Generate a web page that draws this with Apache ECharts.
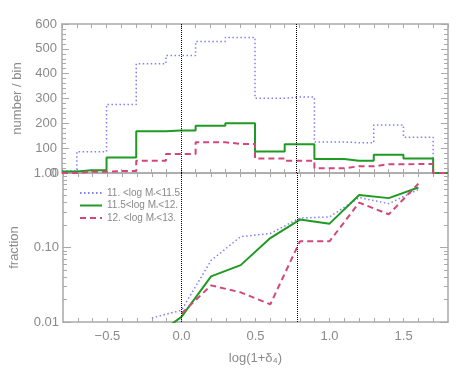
<!DOCTYPE html>
<html>
<head>
    <meta charset="UTF-8">
    <title>number / bin and fraction</title>
    <script src="https://cdn.jsdelivr.net/npm/echarts@6/dist/echarts.min.js"></script>
    <style>
        html, body { margin: 0; padding: 0; background: #fff; }
        #chart { width: 463px; height: 371px; }
    </style>
</head>
<body>
<div id="chart"></div>
<script type="text/javascript">
    // bin centres of the histogram (width 0.2)
    var binCenters = [-0.8, -0.6, -0.4, -0.2, 0.0, 0.2, 0.4, 0.6, 0.8, 1.0, 1.2, 1.4, 1.6, 1.8];
    var histLow  = [8, 86, 276, 440, 473, 530, 546, 301, 306, 125, 122, 193, 144, 0];
    var histMid  = [6, 11, 62, 168, 171, 190, 200, 87, 116, 56, 49, 73, 58, 0];
    var histHigh = [0, 5, 8, 49, 77, 124, 117, 58, 49, 19, 27, 35, 36, 0];

    // fraction curves (lower panel)
    var fracX    = [-0.2, 0.0, 0.2, 0.4, 0.6, 0.8, 1.0, 1.2, 1.4, 1.6];
    var fracLow  = [0.0113, 0.0144, 0.067, 0.14, 0.154, 0.249, 0.257, 0.468, 0.388, 0.60];
    var fracMid  = [0.006, 0.0117, 0.041, 0.058, 0.134, 0.237, 0.209, 0.507, 0.46, 0.64];
    var fracHigh = [null, 0.013, 0.031, 0.025, 0.0173, 0.121, 0.121, 0.40, 0.279, 0.72];

    // log axis ticks
    var logMajor = [0.01, 0.1, 1];
    var logMinor = [0.02, 0.03, 0.04, 0.05, 0.06, 0.07, 0.08, 0.09, 0.2, 0.3, 0.4, 0.5, 0.6, 0.7, 0.8, 0.9];

    var seriesNames = ['11. <log M{s|*}<11.5', '11.5<log M{s|*}<12.', '12. <log M{s|*}<13.'];
    var markX = [0.0, 0.78];

    var colLow = '#7f7ff5', colMid = '#1f9a22', colHigh = '#d2467c';
    var axisCol = '#a9a9a9', textCol = '#8a8a8a';
    var font = 'Liberation Sans';

    function pairs(xs, ys) {
        var out = [];
        for (var i = 0; i < xs.length; i++) out.push([xs[i], ys[i]]);
        return out;
    }

    var vline = {
        silent: true,
        symbol: ['none', 'none'],
        label: { show: false },
        lineStyle: { color: '#000', type: 'dotted', width: 1 },
        data: markX.map(function (v) { return { xAxis: v }; })
    };

    function xAx(grid, pos, labels) {
        return {
            type: 'value', gridIndex: grid, position: pos,
            min: -0.8, max: 1.8, interval: 0.1,
            axisLine: { show: true, onZero: false, lineStyle: { color: axisCol, width: 1.5 } },
            axisTick: { show: true, inside: true, length: 4, lineStyle: { color: axisCol } },
            splitLine: { show: false },
            axisLabel: {
                show: labels, color: textCol, fontFamily: font, fontSize: 13, margin: 8,
                showMinLabel: false, showMaxLabel: false,
                formatter: function (v) {
                    if (Math.abs(v * 2 - Math.round(v * 2)) > 1e-6) return '';
                    return v.toFixed(1).replace('-', '\u2212');
                }
            }
        };
    }

    function yLin(pos, labels) {
        return {
            type: 'value', gridIndex: 0, position: pos,
            min: 0, max: 600, interval: 100,
            axisLine: { show: true, onZero: false, lineStyle: { color: axisCol, width: 1.5 } },
            axisTick: { show: true, inside: true, length: 7, lineStyle: { color: axisCol } },
            minorTick: { show: true, splitNumber: 5, length: 4, lineStyle: { color: axisCol } },
            splitLine: { show: false },
            axisLabel: { show: labels, color: textCol, fontFamily: font, fontSize: 13, margin: 5 },
            name: labels ? 'number / bin' : '',
            nameLocation: 'middle', nameGap: 36, nameRotate: 90,
            nameTextStyle: { color: textCol, fontFamily: font, fontSize: 13 }
        };
    }

    function yLog(pos, labels, minor) {
        return {
            type: 'log', logBase: 10, gridIndex: 1, position: pos,
            min: 0.01, max: 1,
            axisLine: { show: !minor, onZero: false, lineStyle: { color: axisCol, width: 1.5 } },
            axisTick: {
                show: true, inside: true, length: minor ? 4 : 8,
                customValues: minor ? logMinor : logMajor,
                lineStyle: { color: axisCol }
            },
            splitLine: { show: false },
            axisLabel: {
                show: labels, color: textCol, fontFamily: font, fontSize: 13, margin: 4,
                customValues: logMajor,
                formatter: function (v) { return Number(v).toFixed(2); }
            },
            name: labels ? 'fraction' : '',
            nameLocation: 'middle', nameGap: 42, nameRotate: 90,
            nameTextStyle: { color: textCol, fontFamily: font, fontSize: 13 }
        };
    }

    var xBottom = xAx(1, 'bottom', true);
    xBottom.name = 'log(1+\u03b4\u2084)';
    xBottom.nameLocation = 'middle';
    xBottom.nameGap = 30;
    xBottom.nameTextStyle = { color: textCol, fontFamily: font, fontSize: 13 };

    var option = {
        animation: false,
        backgroundColor: '#fff',
        grid: [
            { left: 62, width: 386, top: 24, height: 149 },
            { left: 62, width: 386, top: 173, height: 149 }
        ],
        xAxis: [xAx(0, 'bottom', false), xAx(0, 'top', false), xBottom, xAx(1, 'top', false)],
        yAxis: [
            yLin('left', true), yLin('right', false),
            yLog('left', true, false), yLog('right', false, false),
            yLog('left', false, true), yLog('right', false, true)
        ],
        legend: {
            orient: 'vertical', left: 74, top: 183, itemGap: 2,
            itemWidth: 22, itemHeight: 10,
            itemStyle: { opacity: 0 },
            data: seriesNames,
            textStyle: {
                color: textCol, fontFamily: font, fontSize: 10,
                rich: { s: { fontSize: 6, color: textCol, fontFamily: font, padding: [5, 0, 0, 0] } }
            }
        },
        series: [
            { name: seriesNames[0], type: 'line', xAxisIndex: 0, yAxisIndex: 0, step: 'middle', showSymbol: false, symbol: 'none',
              lineStyle: { color: colLow, width: 1.5, type: [1.5, 2.5] }, itemStyle: { color: colLow },
              data: pairs(binCenters, histLow), markLine: vline },
            { name: seriesNames[1], type: 'line', xAxisIndex: 0, yAxisIndex: 0, step: 'middle', showSymbol: false, symbol: 'none',
              lineStyle: { color: colMid, width: 2 }, itemStyle: { color: colMid },
              data: pairs(binCenters, histMid) },
            { name: seriesNames[2], type: 'line', xAxisIndex: 0, yAxisIndex: 0, step: 'middle', showSymbol: false, symbol: 'none',
              lineStyle: { color: colHigh, width: 2, type: [6, 4] }, itemStyle: { color: colHigh },
              data: pairs(binCenters, histHigh) },
            { name: seriesNames[0], type: 'line', xAxisIndex: 2, yAxisIndex: 2, showSymbol: false, symbol: 'none',
              lineStyle: { color: colLow, width: 1.5, type: [1.5, 2.5] }, itemStyle: { color: colLow },
              data: pairs(fracX, fracLow), markLine: vline },
            { name: seriesNames[1], type: 'line', xAxisIndex: 2, yAxisIndex: 2, showSymbol: false, symbol: 'none',
              lineStyle: { color: colMid, width: 2 }, itemStyle: { color: colMid },
              data: pairs(fracX, fracMid) },
            { name: seriesNames[2], type: 'line', xAxisIndex: 2, yAxisIndex: 2, showSymbol: false, symbol: 'none',
              lineStyle: { color: colHigh, width: 2, type: [6, 4] }, itemStyle: { color: colHigh },
              data: pairs(fracX, fracHigh) }
        ]
    };

    var myChart = echarts.init(document.getElementById('chart'));
    myChart.setOption(option);
</script>
</body>
</html>
